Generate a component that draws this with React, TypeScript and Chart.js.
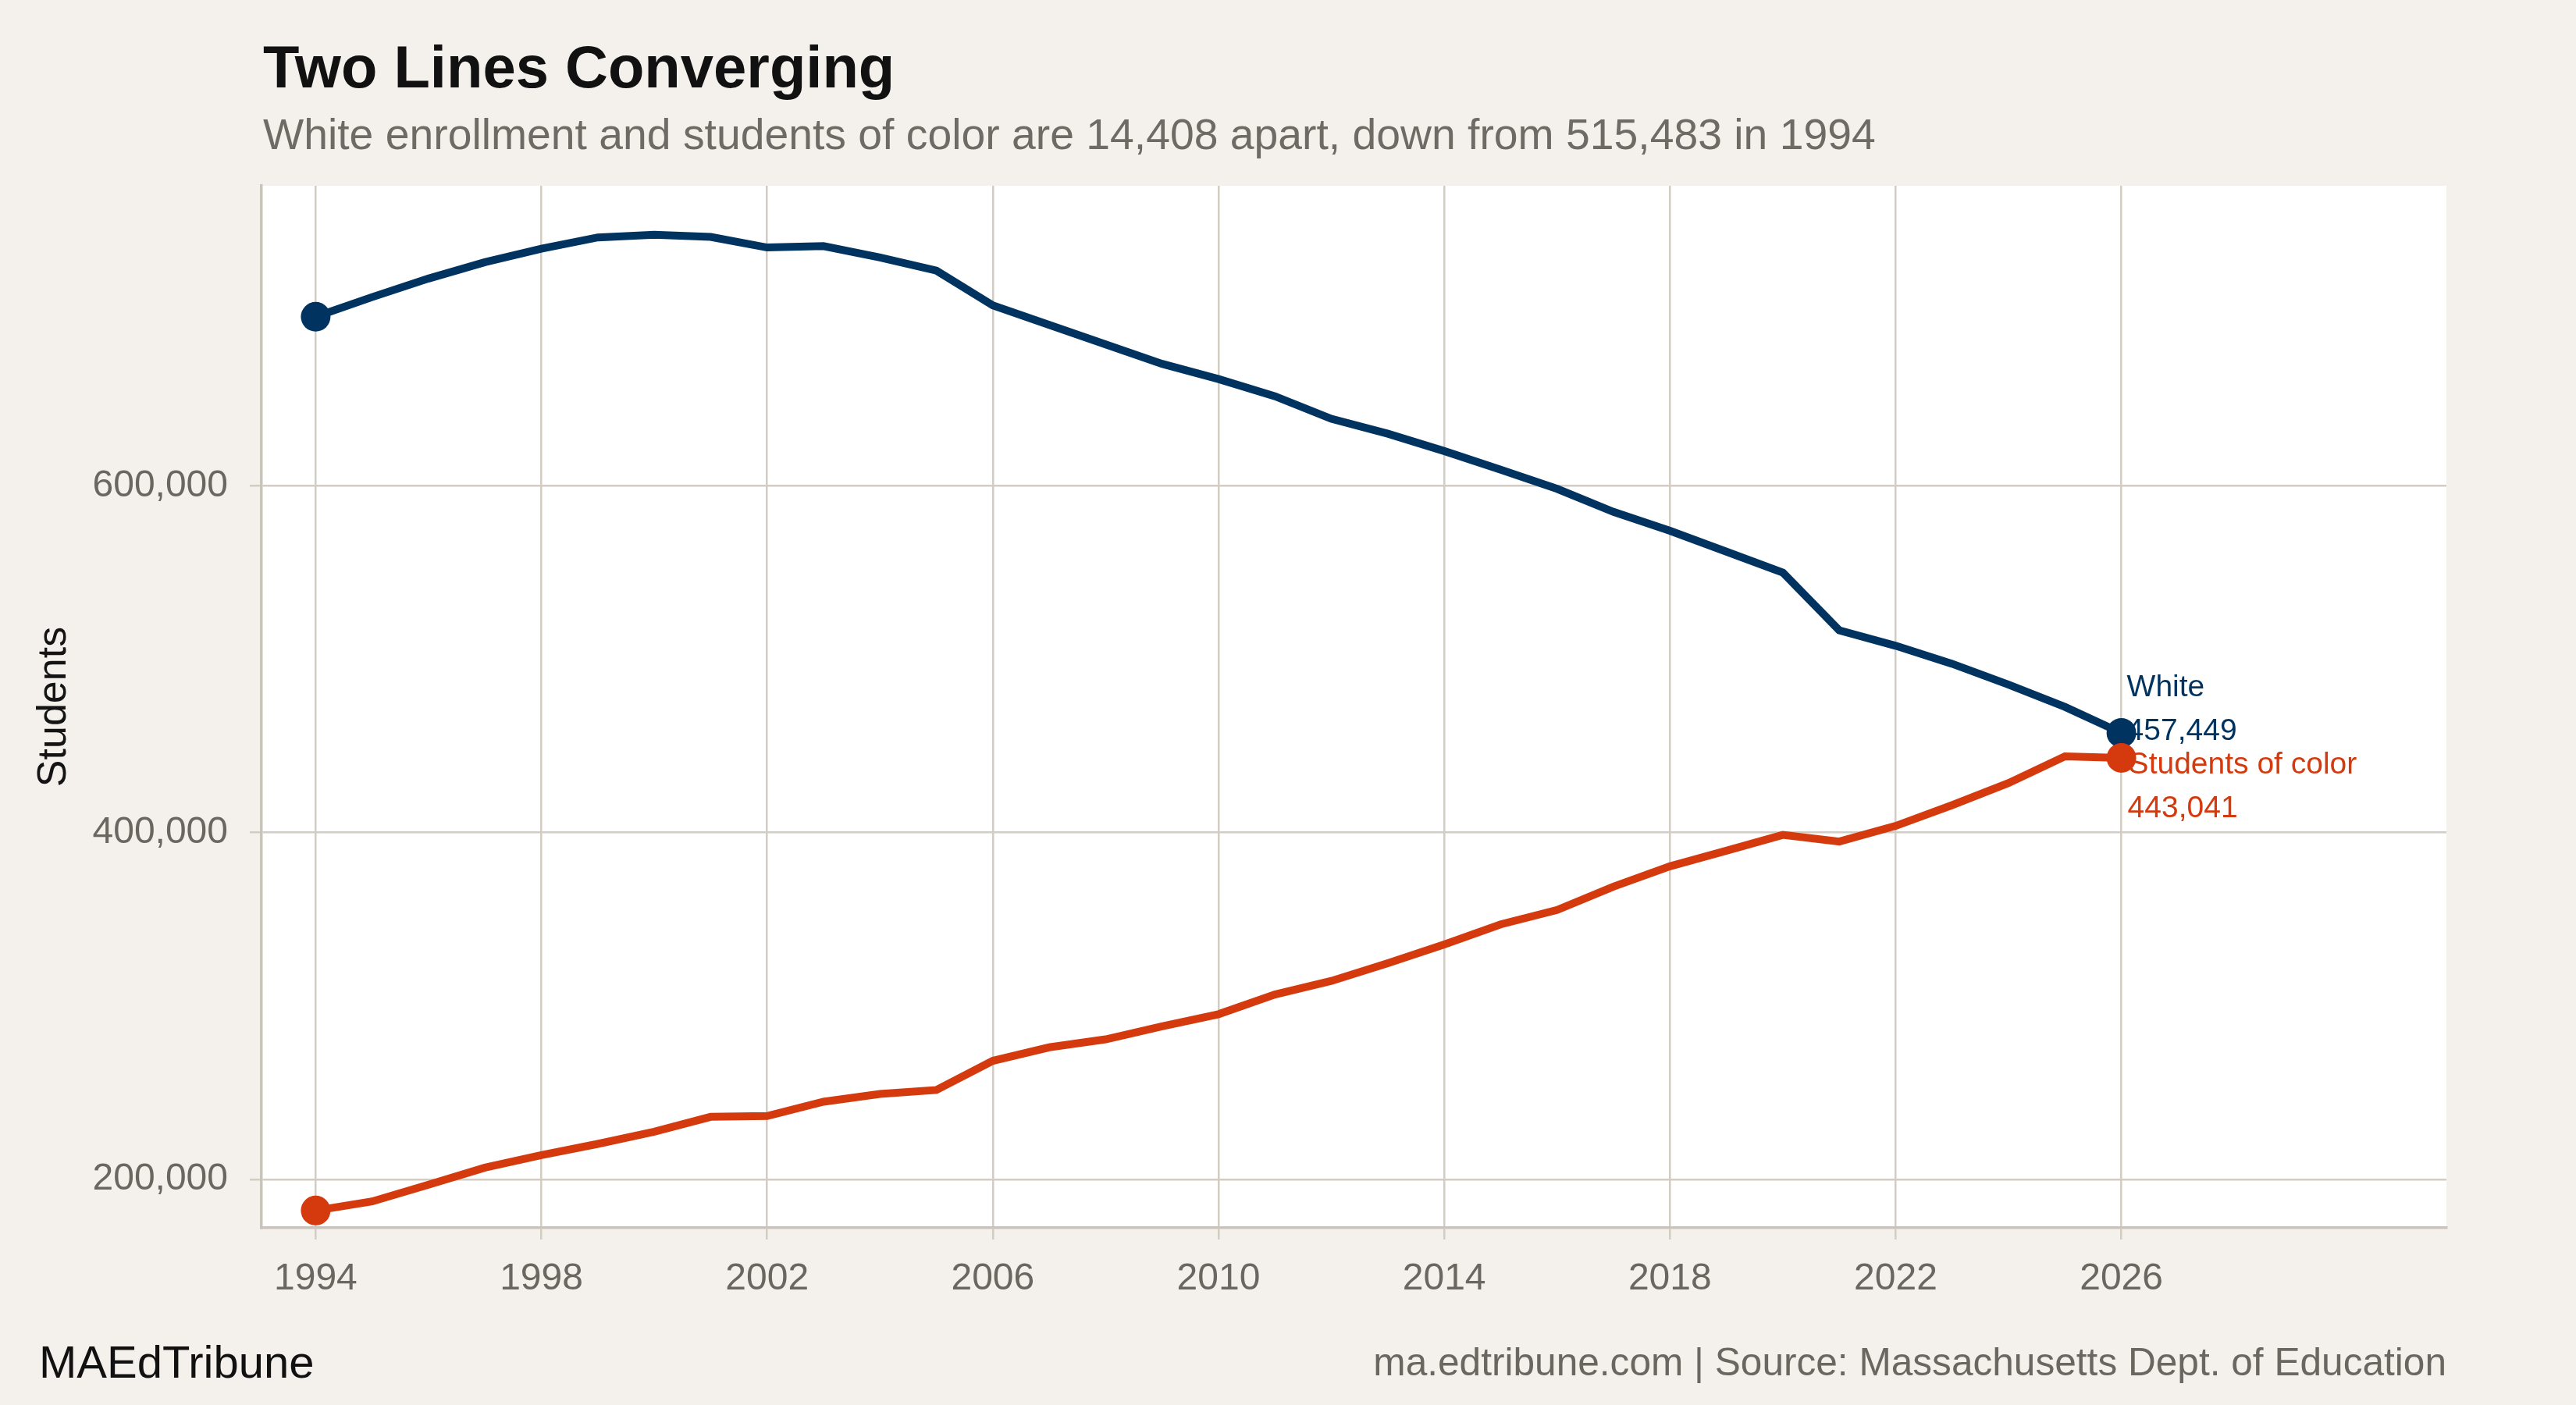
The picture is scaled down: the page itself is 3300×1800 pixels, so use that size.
import { useEffect, useRef } from "react";
import { Chart, registerables, type ChartConfiguration, type Plugin } from "chart.js";

Chart.register(...registerables);

const years = [
  1994, 1995, 1996, 1997, 1998, 1999, 2000, 2001, 2002, 2003, 2004, 2005, 2006,
  2007, 2008, 2009, 2010, 2011, 2012, 2013, 2014, 2015, 2016, 2017, 2018, 2019,
  2020, 2021, 2022, 2023, 2024, 2025, 2026,
];

const white = [
  697449, 708800, 719500, 728900, 736700, 743200, 744800, 743500, 737400, 738200,
  731600, 724100, 704000, 692800, 681500, 670300, 661500, 651600, 638600, 630000,
  620000, 609300, 598200, 584900, 574000, 562000, 549900, 516600, 507700, 497300,
  485300, 472400, 457449,
];

const studentsOfColor = [
  181966, 187200, 196900, 206700, 213900, 220400, 227400, 236000, 236500, 244700,
  249200, 251500, 268300, 276100, 280700, 288200, 295200, 306600, 314400, 324600,
  335400, 347000, 355300, 368800, 380500, 389500, 398600, 394800, 403800, 415800,
  428500, 443900, 443041,
];

const xTicks = [1994, 1998, 2002, 2006, 2010, 2014, 2018, 2022, 2026];
const yTicks = [200000, 400000, 600000];

const FONT = '"Liberation Sans", Arial, Helvetica, sans-serif';
const NAVY = "#00335F";
const RED = "#D43A0E";
const GRID = "#D2CCC3";
const AXIS_TEXT = "#6B6760";
const BG = "#F4F1EC";

const fmt = (v: number) => v.toLocaleString("en-US");

// white panel behind the plot
const panelPlugin: Plugin<"line"> = {
  id: "panel",
  beforeDraw(chart) {
    const { ctx, chartArea } = chart;
    ctx.save();
    ctx.fillStyle = "#ffffff";
    ctx.fillRect(
      chartArea.left,
      chartArea.top,
      chartArea.right - chartArea.left,
      chartArea.bottom - chartArea.top
    );
    ctx.restore();
  },
};

// name + last value next to the final point of each line
const endLabelPlugin: Plugin<"line"> = {
  id: "endLabels",
  beforeDatasetsDraw(chart) {
    const { ctx } = chart;
    ctx.save();
    ctx.font = `39px ${FONT}`;
    ctx.textAlign = "left";
    ctx.textBaseline = "alphabetic";
    chart.data.datasets.forEach((ds, i) => {
      const meta = chart.getDatasetMeta(i);
      const pt = meta.data[meta.data.length - 1];
      if (!pt) return;
      const values = ds.data as { x: number; y: number }[];
      const last = values[values.length - 1].y;
      ctx.fillStyle = ds.borderColor as string;
      if (ds.label === "White") {
        ctx.fillText(ds.label, pt.x + 7, pt.y - 47);
        ctx.fillText(fmt(last), pt.x + 7, pt.y + 9);
      } else {
        ctx.fillText(ds.label as string, pt.x + 9, pt.y + 20);
        ctx.fillText(fmt(last), pt.x + 8, pt.y + 76);
      }
    });
    ctx.restore();
  },
};

const endsOnly = (n: number) => (c: { dataIndex: number }) =>
  c.dataIndex === 0 || c.dataIndex === n - 1 ? 19 : 0;

export default function App() {
  const canvasRef = useRef<HTMLCanvasElement | null>(null);

  useEffect(() => {
    const canvas = canvasRef.current;
    if (!canvas) return;

    const config: ChartConfiguration<"line"> = {
      type: "line",
      data: {
        datasets: [
          {
            label: "Students of color",
            data: years.map((x, i) => ({ x, y: studentsOfColor[i] })),
            borderColor: RED,
            backgroundColor: RED,
            pointBackgroundColor: RED,
            pointBorderWidth: 0,
            borderWidth: 10,
            pointRadius: endsOnly(years.length),
            pointHoverRadius: 0,
            tension: 0,
            order: 0,
          },
          {
            label: "White",
            data: years.map((x, i) => ({ x, y: white[i] })),
            borderColor: NAVY,
            backgroundColor: NAVY,
            pointBackgroundColor: NAVY,
            pointBorderWidth: 0,
            borderWidth: 10,
            pointRadius: endsOnly(years.length),
            pointHoverRadius: 0,
            tension: 0,
            order: 1,
          },
        ],
      },
      options: {
        animation: false,
        responsive: true,
        maintainAspectRatio: false,
        events: [],
        layout: { padding: { top: 238, right: 166, bottom: 0, left: 0 } },
        plugins: {
          legend: { display: false },
          tooltip: { enabled: false },
        },
        scales: {
          x: {
            type: "linear",
            min: 1993.04,
            max: 2031.76,
            afterBuildTicks: (axis) => {
              axis.ticks = xTicks.map((value) => ({ value }));
            },
            afterFit: (scale) => {
              scale.height = 227;
            },
            ticks: {
              autoSkip: false,
              maxRotation: 0,
              padding: 22,
              color: AXIS_TEXT,
              font: { family: FONT, size: 48 },
              callback: (v) => String(v),
            },
            grid: { color: GRID, lineWidth: 2.5, tickLength: 15 },
            border: { color: "#C9C3B9", width: 3.5 },
          },
          y: {
            type: "linear",
            min: 172000,
            max: 773000,
            afterBuildTicks: (axis) => {
              axis.ticks = yTicks.map((value) => ({ value }));
            },
            afterFit: (scale) => {
              scale.width = 335;
            },
            ticks: {
              padding: 28,
              color: AXIS_TEXT,
              font: { family: FONT, size: 48 },
              callback: (v) => fmt(Number(v)),
            },
            grid: { color: GRID, lineWidth: 2.5, tickLength: 15 },
            border: { color: "#C9C3B9", width: 3.5 },
            title: {
              display: true,
              text: "Students",
              color: "#141414",
              font: { family: FONT, size: 52 },
              padding: { top: 38, bottom: 0 },
            },
          },
        },
      },
      plugins: [panelPlugin, endLabelPlugin],
    };

    const chart = new Chart(canvas, config);
    return () => chart.destroy();
  }, []);

  return (
    <div
      style={{
        position: "absolute",
        left: 0,
        top: 0,
        width: 3300,
        height: 1800,
        background: BG,
        fontFamily: FONT,
        overflow: "hidden",
      }}
    >
      <div
        style={{
          position: "absolute",
          left: 337,
          top: 48,
          fontSize: 76,
          lineHeight: 1,
          fontWeight: 700,
          color: "#111111",
          whiteSpace: "nowrap",
        }}
      >
        Two Lines Converging
      </div>
      <div
        style={{
          position: "absolute",
          left: 337,
          top: 145,
          fontSize: 55.3,
          lineHeight: 1,
          color: "#6E6A64",
          whiteSpace: "nowrap",
        }}
      >
        White enrollment and students of color are 14,408 apart, down from 515,483 in 1994
      </div>
      <div style={{ position: "absolute", left: 0, top: 0, width: 3300, height: 1800 }}>
        <canvas ref={canvasRef} aria-label="Two lines converging chart" />
      </div>
      <div
        style={{
          position: "absolute",
          left: 50,
          top: 1716,
          fontSize: 58,
          lineHeight: 1,
          color: "#111111",
          whiteSpace: "nowrap",
        }}
      >
        MAEdTribune
      </div>
      <div
        style={{
          position: "absolute",
          right: 166,
          top: 1721,
          fontSize: 49.6,
          lineHeight: 1,
          color: AXIS_TEXT,
          whiteSpace: "nowrap",
        }}
      >
        ma.edtribune.com | Source: Massachusetts Dept. of Education
      </div>
    </div>
  );
}
